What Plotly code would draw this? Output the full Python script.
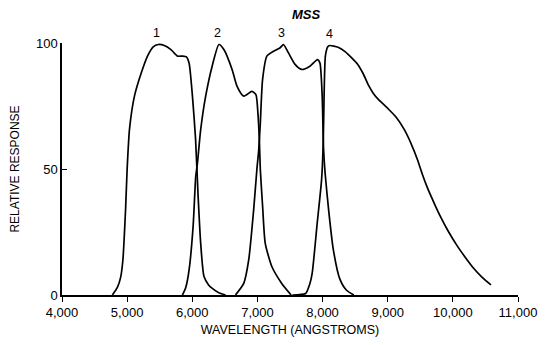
import plotly.graph_objects as go

# Band 1
band1_wl = [4773, 4850, 4900, 4935, 4976, 5000, 5037, 5113, 5215, 5316, 5400, 5480, 5570, 5672, 5773, 5850, 5910, 5951, 6002, 6050, 6088, 6129, 6180, 6250, 6307, 6400, 6511]
band1_resp = [0, 3, 7, 14, 34, 50, 66, 79, 88, 95, 98.5, 99.4, 99, 97.4, 94.8, 94.8, 94.5, 92, 79, 62, 40, 20.5, 7.3, 4, 2.6, 1, 0]

# Band 2
band2_wl = [5849, 5900, 5951, 6012, 6053, 6078, 6129, 6206, 6307, 6409, 6485, 6611, 6688, 6790, 6916, 6977, 7008, 7029, 7044, 7080, 7120, 7221, 7373, 7517]
band2_resp = [0, 3, 10, 27, 47, 52, 65.6, 79, 91, 99.4, 97.4, 89.5, 82.8, 78.9, 80.8, 79.5, 72, 62, 50, 35, 20.5, 11.3, 4.6, 0]

# Band 3
band3_wl = [6663, 6790, 6866, 6942, 6992, 7018, 7044, 7079, 7145, 7247, 7349, 7399, 7476, 7578, 7678, 7806, 7922, 7959, 7994, 8015, 8040, 8096, 8165, 8263, 8364, 8480]
band3_resp = [0, 4.6, 13.9, 33.8, 50, 57, 68, 85.5, 94.8, 96.7, 98.1, 99.4, 96.1, 91.5, 89.5, 90.8, 93.4, 92.1, 79, 58, 48, 33, 18, 6.5, 2, 0]

# Band 4
band4_wl = [7537, 7650, 7740, 7806, 7841, 7918, 7985, 8010, 8024, 8044, 8080, 8111, 8238, 8350, 8451, 8540, 8620, 8700, 8780, 8860, 9010, 9130, 9255, 9360, 9457, 9530, 9610, 9721, 9812, 9925, 10067, 10178, 10322, 10450, 10585]
band4_resp = [0, 0.2, 0.6, 4.6, 8.7, 28.6, 45.8, 60, 80, 95, 98.5, 99, 98.3, 96.5, 94, 91.5, 88, 83.5, 80, 77.5, 73.8, 70.5, 65.6, 60, 53.7, 48, 42.5, 36, 31, 25.5, 19.5, 15.4, 10.5, 7, 4]

band_labels = ["1", "2", "3", "4"]
band_label_wl = [5448, 6393, 7369, 8101]
band_label_resp = [104, 104, 104, 103.5]

x_ticks = [4000, 5000, 6000, 7000, 8000, 9000, 10000, 11000]
y_ticks = [0, 50, 100]
Y_MAX = 100

FONT = "Liberation Sans, Arial, sans-serif"

fig = go.Figure()
for wl, resp in [(band1_wl, band1_resp), (band2_wl, band2_resp),
                 (band3_wl, band3_resp), (band4_wl, band4_resp)]:
    fig.add_trace(go.Scatter(
        x=wl, y=resp, mode="lines",
        line=dict(color="black", width=1.7, shape="spline", smoothing=0.6),
        showlegend=False, hoverinfo="skip", cliponaxis=False))

# labels sit above the y range, so place them in paper units (range starts at 0)
for lab, xw, yr in zip(band_labels, band_label_wl, band_label_resp):
    fig.add_annotation(x=xw, xref="x", y=yr / Y_MAX, yref="paper", yanchor="middle",
                       text=lab, showarrow=False,
                       font=dict(family=FONT, size=12.5, color="black"))

fig.add_annotation(x=7750, xref="x", y=111.5 / Y_MAX, yref="paper", yanchor="middle",
                   text="<b><i>MSS</i></b>", showarrow=False,
                   font=dict(family=FONT, size=13, color="black"))

# page body has an 8px margin: figure is 540x337 placed at (8, 8)
fig.update_layout(
    width=540, height=337,
    margin=dict(l=54, r=30, t=35, b=50),
    paper_bgcolor="white", plot_bgcolor="white",
    font=dict(family=FONT, size=12, color="black"),
    xaxis=dict(
        range=[4000, 11000], tickvals=x_ticks, tickformat=",d",
        showgrid=False, zeroline=False, showline=True, linecolor="black",
        linewidth=1.5, ticks="outside", ticklen=5, tickcolor="black",
        tickfont=dict(family=FONT, size=13),
        title=dict(text="WAVELENGTH (ANGSTROMS)", font=dict(family=FONT, size=12.5), standoff=6),
        automargin=False,
    ),
    yaxis=dict(
        range=[0, Y_MAX], tickvals=y_ticks,
        showgrid=False, zeroline=False, showline=True, linecolor="black",
        linewidth=1.5, ticks="inside", ticklen=5, tickcolor="black",
        tickfont=dict(family=FONT, size=13),
        title=dict(text="RELATIVE RESPONSE", font=dict(family=FONT, size=12), standoff=14),
        automargin=False,
    ),
)

fig.write_html("out.html")
